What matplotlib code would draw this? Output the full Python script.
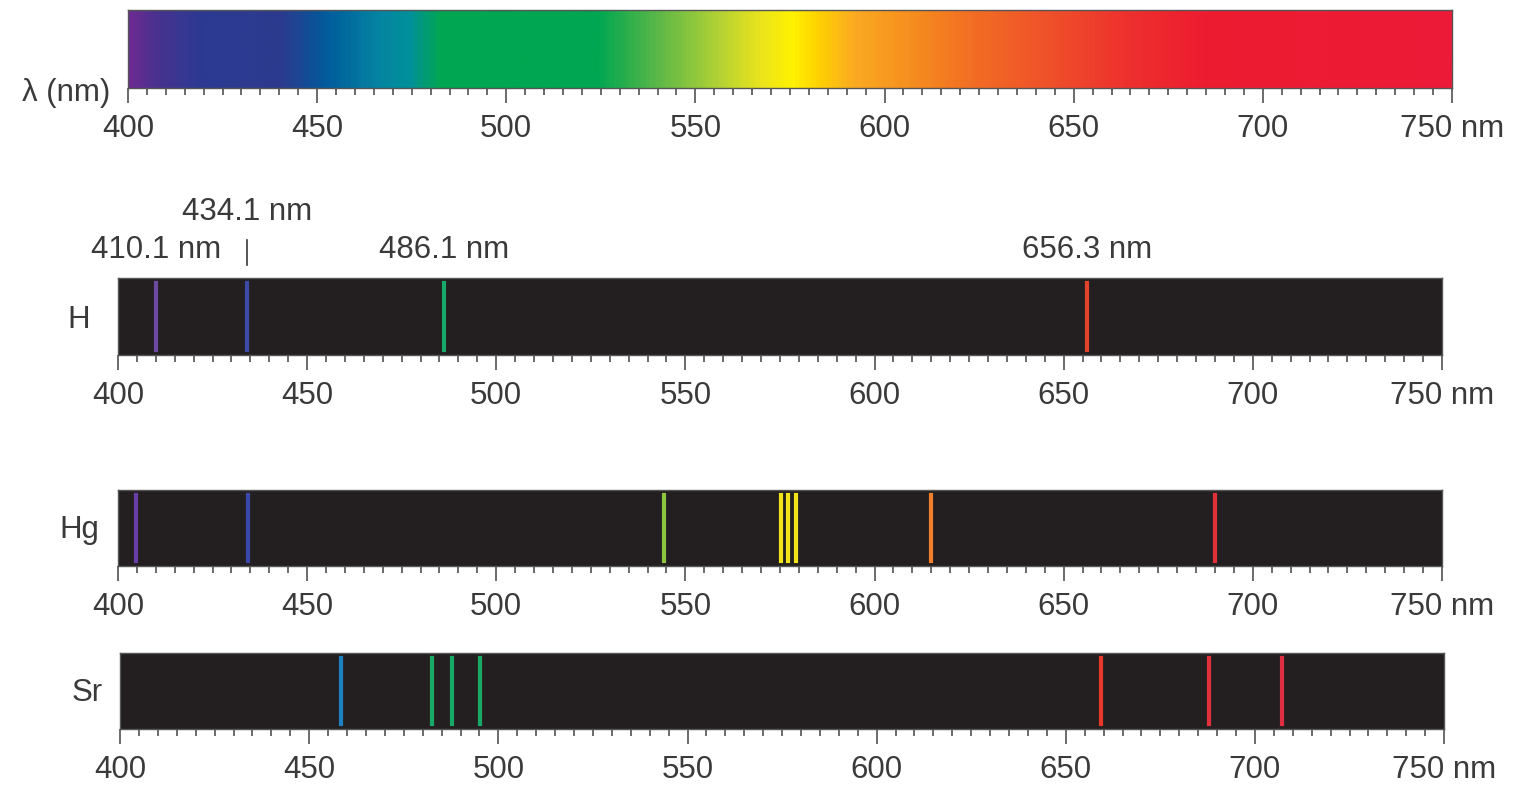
import numpy as np
import matplotlib.pyplot as plt
from matplotlib.colors import LinearSegmentedColormap

plt.rcParams['font.family'] = ['Liberation Sans', 'DejaVu Sans']

# visible spectrum colour stops (nm, colour)
spec_wl = [400, 408, 418, 440, 452, 466, 474, 482, 524, 540, 556, 568, 576, 582, 592, 606, 625, 645, 665, 685, 750]
spec_col = ['#6b2a92', '#44338f', '#2d3a92', '#2c3a8e', '#005c9c', '#0585a2', '#00909a', '#00a651',
            '#00a651', '#5cb848', '#b2d235', '#eee51a', '#fff200', '#ffd400', '#fbab22', '#f6901e',
            '#f26b24', '#ef4f2a', '#ee302e', '#ed1c30', '#ed1a38']

# emission lines (nm) and their colours
h_lines = [410.1, 434.1, 486.1, 656.3]
h_colors = ['#6c4aa2', '#3c4aa8', '#17a96a', '#e2432c']
hg_lines = [404.8, 434.4, 544.3, 575.3, 577.1, 579.2, 614.9, 690.0]
hg_colors = ['#6a3fa6', '#3b48aa', '#8cc63e', '#f0e31a', '#f0e31a', '#f0e31a', '#f0802c', '#e0303a']
sr_lines = [458.4, 482.5, 487.8, 495.2, 659.3, 687.9, 707.2]
sr_colors = ['#1f7fc1', '#18a866', '#18a866', '#18a866', '#e8382c', '#e0303c', '#df2e40']

h_labels = {410.1: '410.1 nm', 434.1: '434.1 nm', 486.1: '486.1 nm', 656.3: '656.3 nm'}

major = list(range(400, 751, 50))
major_labels = [str(v) for v in major[:-1]] + ['750 nm']

txt = '#3a3a3a'
fs = 22.5


def setup_axis(ax):
	ax.set_xlim(400, 750)
	ax.set_ylim(0, 1)
	ax.set_yticks([])
	ax.set_xticks(major)
	ax.set_xticklabels(major_labels)
	ax.set_xticks(np.arange(400, 751, 5), minor=True)
	ax.tick_params(axis='x', which='major', direction='out', length=11, width=1.4,
	               color='#6a6a6a', labelsize=fs, labelcolor=txt, pad=8)
	ax.tick_params(axis='x', which='minor', direction='out', length=5, width=1.4, color='#6a6a6a')
	for s in ax.spines.values():
		s.set_color('#555555')
		s.set_linewidth(1)


def draw_lines(ax, lines, colors):
	ax.set_facecolor('#231f20')
	for wl, c in zip(lines, colors):
		ax.axvline(wl, ymin=0.07, ymax=0.93, color=c, lw=3)


fig = plt.figure(figsize=(15.18, 7.89), dpi=100)

# top: continuous spectrum
ax0 = fig.add_axes([0.0843, 0.8885, 0.8722, 0.0989])
cmap = LinearSegmentedColormap.from_list('vis', list(zip([(w - 400) / 350 for w in spec_wl], spec_col)))
grad = np.linspace(0, 1, 700).reshape(1, -1)
ax0.imshow(grad, cmap=cmap, aspect='auto', extent=[400, 750, 0, 1])
setup_axis(ax0)
ax0.text(-0.0136, -0.06, r'λ (nm)', transform=ax0.transAxes, ha='right', va='center',
         fontsize=fs, color=txt)

# hydrogen
ax1 = fig.add_axes([0.0777, 0.5501, 0.8722, 0.0976])
draw_lines(ax1, h_lines, h_colors)
setup_axis(ax1)
ax1.text(-0.03, 0.45, 'H', transform=ax1.transAxes, ha='center', va='center', fontsize=fs, color=txt)
for wl, lab in h_labels.items():
	y = 1.86 if wl == 434.1 else 1.36
	ax1.text(wl, y, lab, ha='center', va='center', fontsize=fs, color=txt)
ax1.plot([434.1, 434.1], [1.17, 1.49], color=txt, lw=1.2, clip_on=False)

# mercury
ax2 = fig.add_axes([0.0777, 0.2826, 0.8722, 0.0963])
draw_lines(ax2, hg_lines, hg_colors)
setup_axis(ax2)
ax2.text(-0.029, 0.47, 'Hg', transform=ax2.transAxes, ha='center', va='center', fontsize=fs, color=txt)

# strontium
ax3 = fig.add_axes([0.0791, 0.0760, 0.8722, 0.0963])
draw_lines(ax3, sr_lines, sr_colors)
setup_axis(ax3)
ax3.text(-0.025, 0.47, 'Sr', transform=ax3.transAxes, ha='center', va='center', fontsize=fs, color=txt)

plt.savefig('out.png', dpi=100)
